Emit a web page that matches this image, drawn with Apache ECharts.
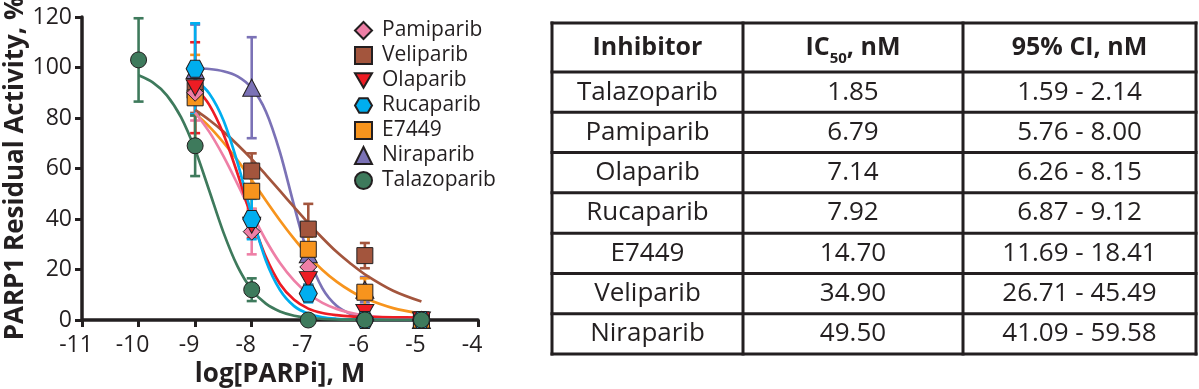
<!DOCTYPE html>
<html><head><meta charset="utf-8">
<script src="https://cdn.jsdelivr.net/npm/echarts@6/dist/echarts.min.js"></script>
<style>html,body{margin:0;padding:0;background:#fff}#chart{width:1199px;height:389px}</style>
</head><body><div id="chart"></div>
<script>
// ---------- data ----------
const doseLog = [-9, -8, -7, -6, -5];
const talazoparibDoseLog = [-10, -9, -8, -7, -6, -5];

const pamiparibMean = [90, 35, 21, 1, 0];
const pamiparibErr = [11, 9, 3, 1, 0];
const veliparibMean = [91, 59, 36, 25.5, 0];
const veliparibErr = [9, 7, 10, 5, 0];
const olaparibMean = [92, 37.5, 16, 3, 0];
const olaparibErr = [18, 5, 2, 1.5, 0];
const rucaparibMean = [99.5, 40, 10.5, 0, 0];
const rucaparibErr = [18, 8, 3.5, 0, 0];
const e7449Mean = [88, 51, 28, 11, 0];
const e7449Err = [17, 7, 5, 5.5, 0];
const niraparibMean = [99, 92, 26, 12, 0];
const niraparibErr = [18, 20, 8, 5, 0];
const talazoparibMean = [103, 69, 12, 0, 0, 0];
const talazoparibErr = [16.5, 12, 4.5, 0, 0, 0];

// fitted curves
const fitDoseLog = [-9, -8.75, -8.5, -8.25, -8, -7.75, -7.5, -7.25, -7, -6.75, -6.5, -6.25, -6, -5.5, -5];
const pamiparibFit = [82.2, 74.5, 64.9, 53.8, 42.3, 31.6, 22.6, 15.6, 10.4, 6.8, 4.4, 2.8, 1.8, 0.7, 0.3];
const veliparibFit = [83.2, 79.2, 74.6, 69.4, 63.7, 57.5, 51.1, 44.7, 38.4, 32.5, 27.0, 22.3, 18.1, 11.6, 7.3];
const olaparibFit = [92.2, 85.2, 73.7, 57.9, 40.3, 25.0, 14.3, 8.0, 4.5, 2.75, 1.9, 1.4, 1.2, 1.05, 1.0];
const rucaparibFit = [95.3, 89.7, 79.1, 62.2, 41.7, 23.6, 11.9, 5.5, 2.5, 1.1, 0.5, 0.2, 0.1, 0, 0];
const e7449Fit = [81.8, 76.6, 70.3, 63.2, 55.4, 47.3, 39.4, 32.1, 25.5, 19.8, 15.2, 11.5, 8.6, 4.7, 2.5];
const niraparibFit = [99.7, 99.4, 98.5, 96.5, 91.9, 82.6, 66.4, 45.2, 25.6, 12.5, 5.6, 2.4, 1.0, 0.2, 0.0];
const talazoparibFitDoseLog = [-10, -9.75, -9.5, -9.25, -9, -8.75, -8.5, -8.25, -8, -7.75, -7.5, -7.25, -7, -6.5, -6, -5.5, -5];
const talazoparibFit = [96.9, 94.1, 89.0, 80.3, 67.4, 51.2, 34.7, 21.2, 12.0, 6.5, 3.4, 1.7, 0.9, 0.2, 0.1, 0, 0];

const legendOrder = ['Pamiparib', 'Veliparib', 'Olaparib', 'Rucaparib', 'E7449', 'Niraparib', 'Talazoparib'];
const xTicks = [-11, -10, -9, -8, -7, -6, -5, -4];
const yTicks = [0, 20, 40, 60, 80, 100, 120];

const tableHeader = ['Inhibitor', 'IC50, nM', '95% CI, nM'];
const tableInhibitors = ['Talazoparib', 'Pamiparib', 'Olaparib', 'Rucaparib', 'E7449', 'Veliparib', 'Niraparib'];
const tableIC50 = ['1.85', '6.79', '7.14', '7.92', '14.70', '34.90', '49.50'];
const tableCI = ['1.59 - 2.14', '5.76 - 8.00', '6.26 - 8.15', '6.87 - 9.12', '11.69 - 18.41', '26.71 - 45.49', '41.09 - 59.58'];

// ---------- style ----------
const FONT = "'Open Sans', 'Noto Sans', sans-serif";
const INK = '#231f20';
const hexPath = 'path://M-10,0L-5,-8.66L5,-8.66L10,0L5,8.66L-5,8.66Z';

const drugs = [
  {name: 'Niraparib', color: '#7b72b6', symbol: 'triangle', size: [18, 17], x: doseLog, y: niraparibMean, e: niraparibErr, fx: fitDoseLog, fy: niraparibFit},
  {name: 'Veliparib', color: '#a3553d', symbol: 'rect', size: 16, x: doseLog, y: veliparibMean, e: veliparibErr, fx: fitDoseLog, fy: veliparibFit},
  {name: 'E7449', color: '#f7941d', symbol: 'rect', size: 16, x: doseLog, y: e7449Mean, e: e7449Err, fx: fitDoseLog, fy: e7449Fit},
  {name: 'Pamiparib', color: '#ee7fa6', symbol: 'diamond', size: 17, x: doseLog, y: pamiparibMean, e: pamiparibErr, fx: fitDoseLog, fy: pamiparibFit},
  {name: 'Olaparib', color: '#ed1c24', symbol: 'path://M0,0L20,0L10,17Z', size: [18, 16], x: doseLog, y: olaparibMean, e: olaparibErr, fx: fitDoseLog, fy: olaparibFit},
  {name: 'Rucaparib', color: '#00aeef', symbol: hexPath, size: [18, 17], x: doseLog, y: rucaparibMean, e: rucaparibErr, fx: fitDoseLog, fy: rucaparibFit},
  {name: 'Talazoparib', color: '#3e7a5c', symbol: 'circle', size: 16, x: talazoparibDoseLog, y: talazoparibMean, e: talazoparibErr, fx: talazoparibFitDoseLog, fy: talazoparibFit}
];

const zip = (a, b) => a.map((v, i) => [v, b[i]]);

const series = [];
drugs.forEach(d => {
  series.push({
    name: d.name + ' fit', type: 'line', data: zip(d.fx, d.fy), smooth: 0.3,
    showSymbol: false, symbol: 'none', lineStyle: {color: d.color, width: 2.7}, silent: true, z: 2
  });
});
drugs.forEach(d => {
  series.push({
    name: d.name + ' error', type: 'custom', data: d.x.map((v, i) => [v, d.y[i], d.e[i]]),
    encode: {x: 0, y: 1}, silent: true, z: 2,
    renderItem: (params, api) => {
      const x = api.value(0), y = api.value(1), e = api.value(2);
      if (!e) return null;
      const t = api.coord([x, y + e]), b = api.coord([x, y - e]);
      const hw = 5, st = {stroke: d.color, lineWidth: 2.6};
      return {type: 'group', children: [
        {type: 'line', shape: {x1: t[0], y1: t[1], x2: b[0], y2: b[1]}, style: st},
        {type: 'line', shape: {x1: t[0] - hw, y1: t[1], x2: t[0] + hw, y2: t[1]}, style: st},
        {type: 'line', shape: {x1: b[0] - hw, y1: b[1], x2: b[0] + hw, y2: b[1]}, style: st}
      ]};
    }
  });
});
drugs.forEach(d => {
  series.push({
    name: d.name, type: 'scatter', data: zip(d.x, d.y), symbol: d.symbol, symbolSize: d.size,
    symbolKeepAspect: false,
    itemStyle: {color: d.color, borderColor: INK, borderWidth: 1, opacity: 1}, z: 2
  });
});

// ---------- table (graphic) ----------
const colX = [552, 743, 963, 1196];
const rowY = [23, 72];
for (let i = 1; i <= tableInhibitors.length; i++) rowY.push(72 + i * (354 - 72) / tableInhibitors.length);
const graphics = [];
rowY.forEach(y => graphics.push({type: 'line', shape: {x1: colX[0], y1: y, x2: colX[3], y2: y}, style: {stroke: INK, lineWidth: 3, lineCap: 'square'}, z: 10}));
colX.forEach(x => graphics.push({type: 'line', shape: {x1: x, y1: rowY[0], x2: x, y2: rowY[rowY.length - 1]}, style: {stroke: INK, lineWidth: 3, lineCap: 'square'}, z: 10}));
const colC = [0, 1, 2].map(i => (colX[i] + colX[i + 1]) / 2);
const headC = (rowY[0] + rowY[1]) / 2;
const bold = {fontFamily: FONT, fontWeight: 'bold', fontSize: 25, fill: INK};
graphics.push({type: 'text', x: colC[0], y: headC, style: Object.assign({text: tableHeader[0], align: 'center', verticalAlign: 'middle'}, bold), z: 11});
graphics.push({type: 'text', x: colC[1], y: headC, style: {
  text: '{b|IC}{s|50}{b|, nM}', align: 'center', verticalAlign: 'middle', fill: INK,
  rich: {b: {fontFamily: FONT, fontWeight: 'bold', fontSize: 25, fill: INK}, s: {fontFamily: FONT, fontWeight: 'bold', fontSize: 15, fill: INK, padding: [22, 0, 0, 0]}}
}, z: 11});
graphics.push({type: 'text', x: colC[2], y: headC, style: Object.assign({text: tableHeader[2], align: 'center', verticalAlign: 'middle'}, bold), z: 11});
const cols = [tableInhibitors, tableIC50, tableCI];
for (let r = 0; r < tableInhibitors.length; r++) {
  const cy = (rowY[r + 1] + rowY[r + 2]) / 2;
  cols.forEach((c, ci) => graphics.push({type: 'text', x: colC[ci], y: cy, style: {text: c[r], align: 'center', verticalAlign: 'middle', fontFamily: FONT, fontSize: 26, fill: INK}, z: 11}));
}

const chart = echarts.init(document.getElementById('chart'), null, {renderer: 'canvas'});
chart.setOption({
  animation: false,
  backgroundColor: '#fff',
  grid: {left: 82, right: 721, top: 17, bottom: 69, containLabel: false, outerBoundsMode: 'none'},
  legend: {
    data: legendOrder, orient: 'vertical', left: 349, top: 15, itemWidth: 17, itemHeight: 17, itemGap: 4,
    selectedMode: false, textStyle: {fontFamily: FONT, fontSize: 21, color: INK, padding: [0, 0, 0, 5]}
  },
  xAxis: {
    type: 'value', min: xTicks[0], max: xTicks[xTicks.length - 1], interval: 1,
    name: 'log[PARPi], M', nameLocation: 'middle', nameGap: 40,
    nameTextStyle: {fontFamily: FONT, fontWeight: 'bold', fontSize: 26, color: INK},
    axisLine: {show: true, onZero: false, lineStyle: {color: INK, width: 3.5}},
    axisTick: {show: true, length: 7, lineStyle: {color: INK, width: 3}},
    axisLabel: {fontFamily: FONT, fontSize: 23, color: INK, margin: 14, padding: [0, 12, 0, 0], formatter: v => String(v)},
    splitLine: {show: false}
  },
  yAxis: {
    type: 'value', min: yTicks[0], max: yTicks[yTicks.length - 1], interval: 20,
    name: 'PARP1 Residual Activity, %', nameLocation: 'middle', nameGap: 51,
    nameTextStyle: {fontFamily: FONT, fontWeight: 'bold', fontSize: 26, color: INK},
    axisLine: {show: true, lineStyle: {color: INK, width: 3.5}},
    axisTick: {show: true, length: 7, lineStyle: {color: INK, width: 3}},
    axisLabel: {fontFamily: FONT, fontSize: 23, color: INK, margin: 10},
    splitLine: {show: false}
  },
  series: series,
  graphic: graphics
});
</script></body></html>
